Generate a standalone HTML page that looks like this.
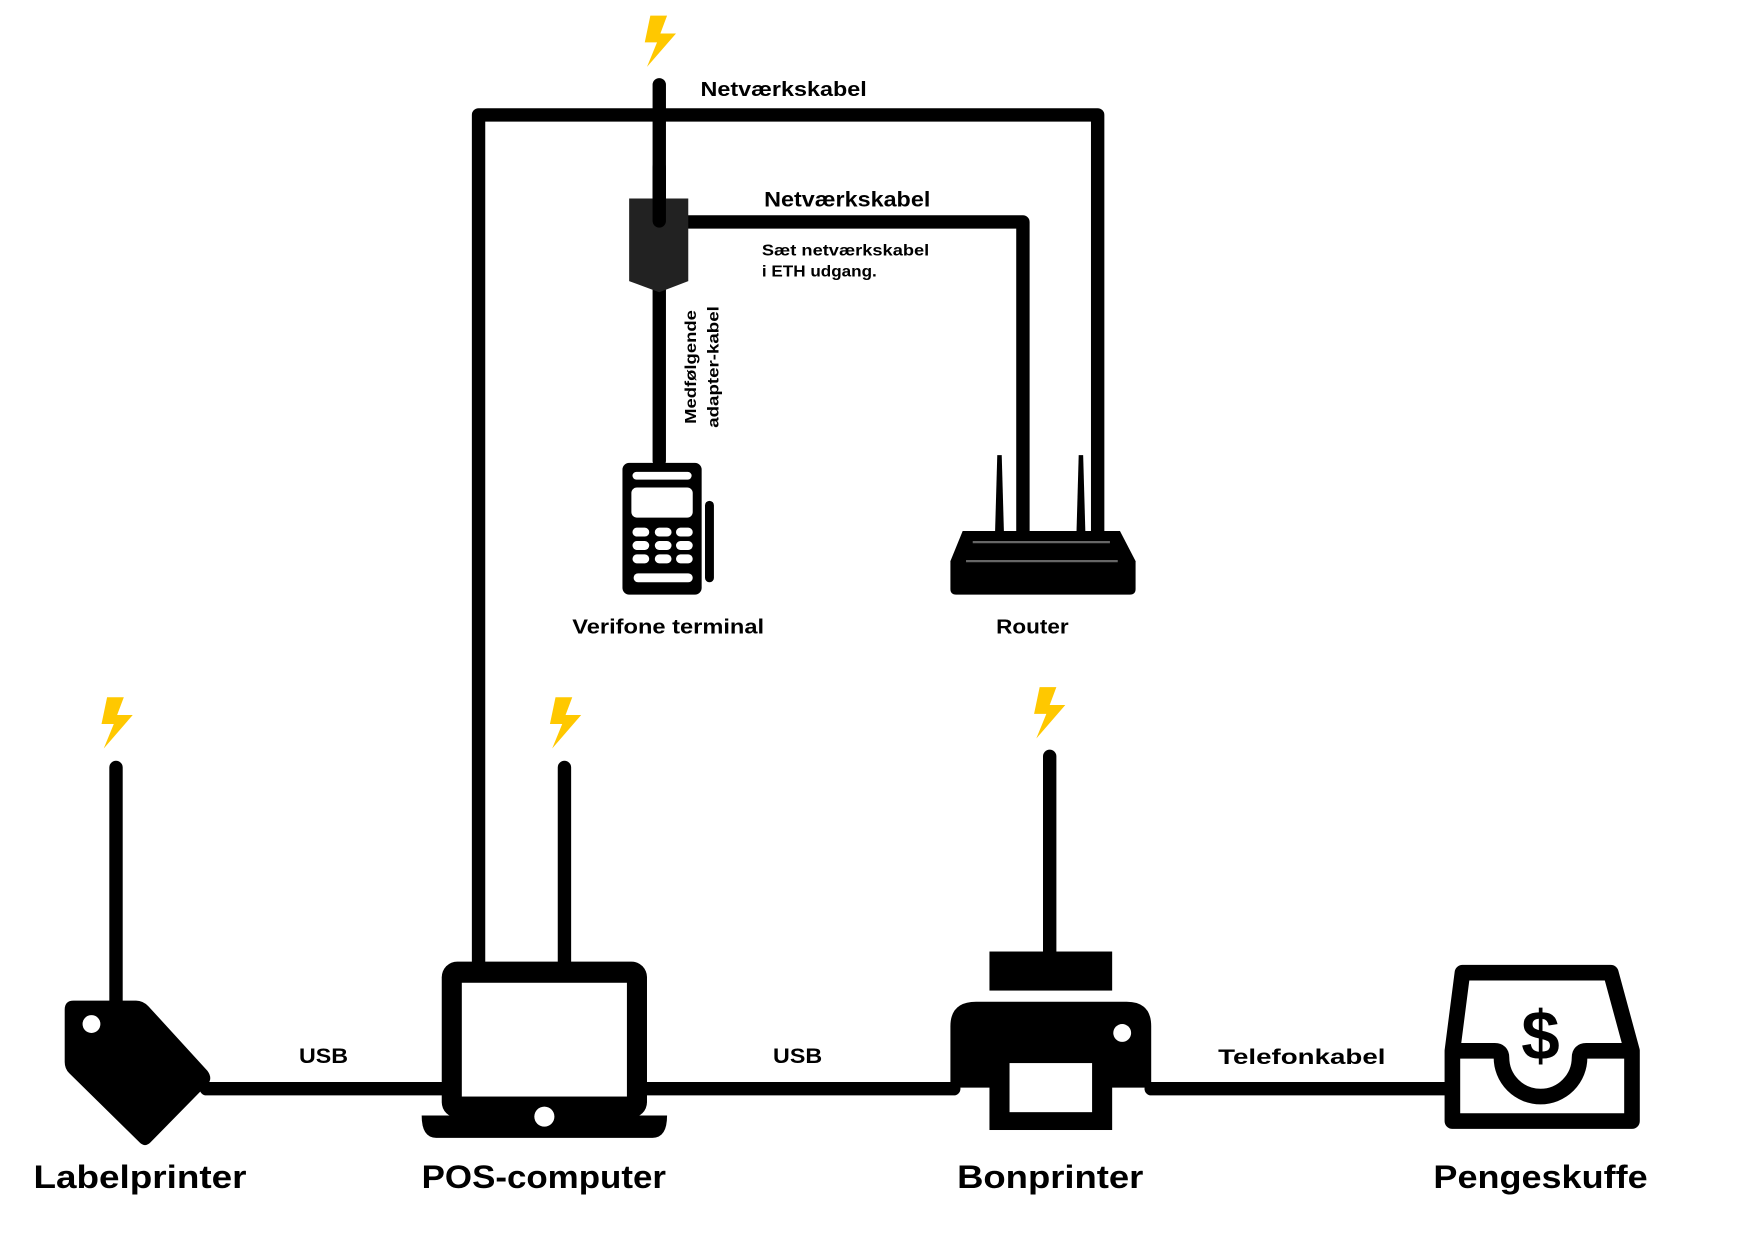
<!DOCTYPE html>
<html><head><meta charset="utf-8"><style>
html,body{margin:0;padding:0;background:#fff;}
svg{display:block;}
text{font-family:"Liberation Sans",sans-serif;font-weight:bold;fill:#000;}
</style></head><body>
<svg width="1748" height="1240" viewBox="0 0 1567 1111.6" xmlns="http://www.w3.org/2000/svg">
<defs>
<path id="bolt" d="M-9,-22 L6,-22 L0,-6 L14,-6 L-12,24 L-3,2 L-14,2 Z" fill="#FFC800"/>
</defs>
<rect width="1600" height="1120" fill="#fff"/>
<use href="#bolt" x="592" y="36"/>
<use href="#bolt" x="105" y="647"/>
<use href="#bolt" x="507" y="647"/>
<use href="#bolt" x="941" y="638"/>

<g stroke="#000" stroke-width="12" fill="none" stroke-linecap="round" stroke-linejoin="round">
<path d="M429,862 V103 H984 V480"/>
<path d="M617,199 H917 V480"/>
<path d="M591,76 V198"/>
<path d="M104,688 V897"/>
<path d="M506,688 V862"/>
<path d="M941,678 V853"/>
<path d="M591,258 V413"/>
<path d="M185,976 H400"/>
<path d="M580,976 H855"/>
<path d="M1032,976 H1300"/>
</g>

<path d="M564,178 H617 V252 L591,262 L564,252 Z" fill="#222"/>
<path d="M591,150 V198" stroke="#000" stroke-width="12" stroke-linecap="round"/>

<text x="628" y="86" font-size="18" textLength="149" lengthAdjust="spacingAndGlyphs">Netværkskabel</text>
<text x="685" y="185" font-size="19" textLength="149" lengthAdjust="spacingAndGlyphs">Netværkskabel</text>
<text x="683" y="229" font-size="14" textLength="150" lengthAdjust="spacingAndGlyphs">Sæt netværkskabel</text>
<text x="683" y="248" font-size="14" textLength="103" lengthAdjust="spacingAndGlyphs">i ETH udgang.</text>
<text transform="translate(624,329) rotate(-90)" font-size="14" text-anchor="middle" textLength="102" lengthAdjust="spacingAndGlyphs">Medfølgende</text>
<text transform="translate(644,329) rotate(-90)" font-size="14" text-anchor="middle" textLength="109" lengthAdjust="spacingAndGlyphs">adapter-kabel</text>

<rect x="558" y="415" width="71" height="118" rx="6" fill="#000"/>
<rect x="567" y="423" width="53" height="7" rx="3.5" fill="#fff"/>
<rect x="566" y="437" width="55" height="27" rx="5" fill="#fff"/>
<g fill="#fff">
<rect x="567" y="473" width="15" height="8" rx="4"/><rect x="587" y="473" width="15" height="8" rx="4"/><rect x="606" y="473" width="15" height="8" rx="4"/>
<rect x="567" y="485" width="15" height="8" rx="4"/><rect x="587" y="485" width="15" height="8" rx="4"/><rect x="606" y="485" width="15" height="8" rx="4"/>
<rect x="567" y="497" width="15" height="8" rx="4"/><rect x="587" y="497" width="15" height="8" rx="4"/><rect x="606" y="497" width="15" height="8" rx="4"/>
<rect x="568" y="514" width="53" height="8" rx="4"/>
</g>
<rect x="632" y="449" width="8" height="73" rx="4" fill="#000"/>
<text x="513" y="568" font-size="18" textLength="172" lengthAdjust="spacingAndGlyphs">Verifone terminal</text>

<path d="M892,478 L894,408 L898,408 L900,478 Z" fill="#000"/>
<path d="M965,478 L967,408 L971,408 L973,478 Z" fill="#000"/>
<path d="M863,476 H1004 L1018,503 V528 Q1018,533 1013,533 H857 Q852,533 852,528 V503 Z" fill="#000"/>
<path d="M872,486 H995 M866,503 H1002" stroke="#666" stroke-width="2"/>
<text x="893" y="568" font-size="18" textLength="65" lengthAdjust="spacingAndGlyphs">Router</text>

<path d="M66,897 H122 Q128,897 133,902 L186,960 Q191,967 186,972 L135,1024 Q130,1029 125,1024 L62,962 Q58,958 58,952 V905 Q58,897 66,897 Z" fill="#000"/>
<circle cx="82" cy="918" r="8" fill="#fff"/>

<rect x="396" y="862" width="184" height="140" rx="14" fill="#000"/>
<rect x="414" y="881" width="148" height="102" fill="#fff"/>
<path d="M378,1000 H598 Q598,1020 585,1020 H391 Q378,1020 378,1000 Z" fill="#000"/>
<circle cx="488" cy="1001" r="9" fill="#fff"/>

<rect x="887" y="853" width="110" height="35" fill="#000"/>
<path d="M875,898 H1010 Q1032,898 1032,920 V975 H852 V920 Q852,898 875,898 Z" fill="#000"/>
<rect x="887" y="940" width="110" height="73" fill="#000"/>
<rect x="905" y="953" width="74" height="44" fill="#fff"/>
<circle cx="1006" cy="926" r="8" fill="#fff"/>

<g stroke="#000" stroke-width="14" fill="none" stroke-linejoin="round">
<path d="M1311,872 H1444 L1463,942 V1005 H1302 V942 Z"/>
<path d="M1302,942 H1340 Q1346,942 1346,948 A35,35 0 0 0 1416,948 Q1416,942 1422,942 H1463"/>
</g>
<text x="1381" y="950" font-size="62" text-anchor="middle">$</text>

<text x="268" y="953" font-size="19" textLength="44" lengthAdjust="spacingAndGlyphs">USB</text>
<text x="693" y="953" font-size="19" textLength="44" lengthAdjust="spacingAndGlyphs">USB</text>
<text x="1092" y="954" font-size="19" textLength="150" lengthAdjust="spacingAndGlyphs">Telefonkabel</text>

<text x="30" y="1065" font-size="29" textLength="191" lengthAdjust="spacingAndGlyphs">Labelprinter</text>
<text x="378" y="1065" font-size="29" textLength="219" lengthAdjust="spacingAndGlyphs">POS-computer</text>
<text x="858" y="1065" font-size="29" textLength="167" lengthAdjust="spacingAndGlyphs">Bonprinter</text>
<text x="1285" y="1065" font-size="29" textLength="192" lengthAdjust="spacingAndGlyphs">Pengeskuffe</text>
</svg>
</body></html>
